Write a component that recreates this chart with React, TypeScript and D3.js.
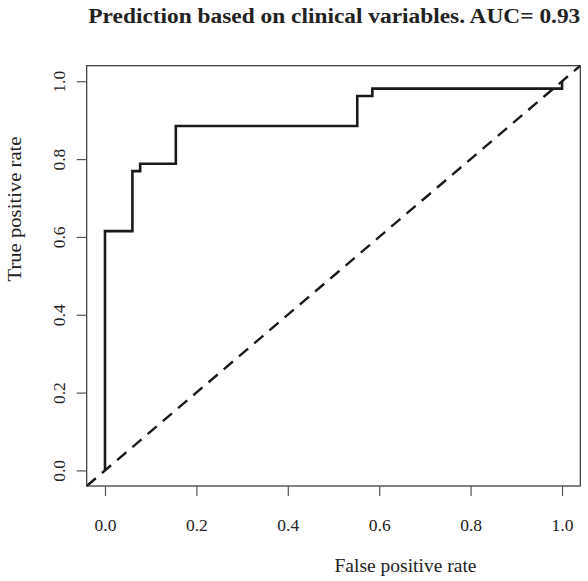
import React, { useEffect, useRef } from "react";
import * as d3 from "d3";

// ROC curve vertices (false positive rate, true positive rate)
const fprSteps = [0, 0, 0.06, 0.077, 0.155, 0.552, 0.585, 1];
const tprSteps = [0, 0.615, 0.769, 0.788, 0.885, 0.962, 0.981, 1];
const tickValues = [0, 0.2, 0.4, 0.6, 0.8, 1.0];
const chartTitle = "Prediction based on clinical variables. AUC= 0.93";
const xLabel = "False positive rate";
const yLabel = "True positive rate";

const W = 588, H = 581;
const box = { left: 86.7, right: 580.3, top: 65.7, bottom: 486 };
const FONT = "'Liberation Serif', 'Times New Roman', serif";

export default function App() {
  const ref = useRef<SVGSVGElement>(null);

  useEffect(() => {
    const svg = d3.select(ref.current);
    svg.selectAll("*").remove();

    const x = d3.scaleLinear().domain([-0.04, 1.04]).range([box.left, box.right]);
    const y = d3.scaleLinear().domain([-0.04, 1.04]).range([box.bottom, box.top]);

    // diagonal reference line, corner to corner of the plot region
    svg.append("line")
      .attr("x1", x(-0.04)).attr("y1", y(-0.04))
      .attr("x2", x(1.04)).attr("y2", y(1.04))
      .attr("stroke", "#1a1a1a")
      .attr("stroke-width", 2.4)
      .attr("stroke-dasharray", "12 8");

    const pts: [number, number][] = fprSteps.map((f, i) => [f, tprSteps[i]]);
    const line = d3.line<[number, number]>()
      .x(d => x(d[0]))
      .y(d => y(d[1]))
      .curve(d3.curveStepAfter);

    svg.append("path")
      .attr("d", line(pts))
      .attr("fill", "none")
      .attr("stroke", "#1a1a1a")
      .attr("stroke-width", 2.6)
      .attr("stroke-linejoin", "miter");

    // box
    svg.append("rect")
      .attr("x", box.left).attr("y", box.top)
      .attr("width", box.right - box.left)
      .attr("height", box.bottom - box.top)
      .attr("fill", "none")
      .attr("stroke", "#333")
      .attr("stroke-width", 1.2);

    const fmt = d3.format(".1f");

    const gx = svg.append("g")
      .attr("transform", `translate(0, ${box.bottom})`)
      .call(d3.axisBottom(x).tickValues(tickValues).tickSize(10).tickFormat(d => fmt(d as number)));
    gx.select(".domain").remove();
    gx.selectAll("line").attr("stroke", "#555").attr("stroke-width", 1.2);
    gx.selectAll("text")
      .attr("y", 45).attr("dy", 0)
      .attr("fill", "#222")
      .style("font-family", FONT)
      .style("font-size", "17.5px");

    const gy = svg.append("g")
      .attr("transform", `translate(${box.left}, 0)`)
      .call(d3.axisLeft(y).tickValues(tickValues).tickSize(10).tickFormat(d => fmt(d as number)));
    gy.select(".domain").remove();
    gy.selectAll("line").attr("stroke", "#555").attr("stroke-width", 1.2);
    gy.selectAll("text")
      .attr("x", 0).attr("y", 0).attr("dy", 0)
      .attr("transform", "translate(-22,0) rotate(-90)")
      .attr("text-anchor", "middle")
      .attr("fill", "#222")
      .style("font-family", FONT)
      .style("font-size", "17.5px");

    svg.append("text")
      .attr("x", 334.3).attr("y", 22.5)
      .attr("text-anchor", "middle")
      .attr("textLength", 492)
      .attr("lengthAdjust", "spacingAndGlyphs")
      .attr("fill", "#222")
      .style("font-family", FONT)
      .style("font-weight", "bold")
      .style("font-size", "20px")
      .text(chartTitle);

    svg.append("text")
      .attr("x", 405.5).attr("y", 571.5)
      .attr("text-anchor", "middle")
      .attr("textLength", 142)
      .attr("lengthAdjust", "spacingAndGlyphs")
      .attr("fill", "#222")
      .style("font-family", FONT)
      .style("font-size", "18.5px")
      .text(xLabel);

    svg.append("text")
      .attr("transform", "translate(21, 209) rotate(-90)")
      .attr("text-anchor", "middle")
      .attr("textLength", 145)
      .attr("lengthAdjust", "spacingAndGlyphs")
      .attr("fill", "#222")
      .style("font-family", FONT)
      .style("font-size", "18.5px")
      .text(yLabel);
  }, []);

  return (
    <svg ref={ref} width={W} height={H}
      style={{ position: "absolute", left: 0, top: 0, background: "#fff" }} />
  );
}
